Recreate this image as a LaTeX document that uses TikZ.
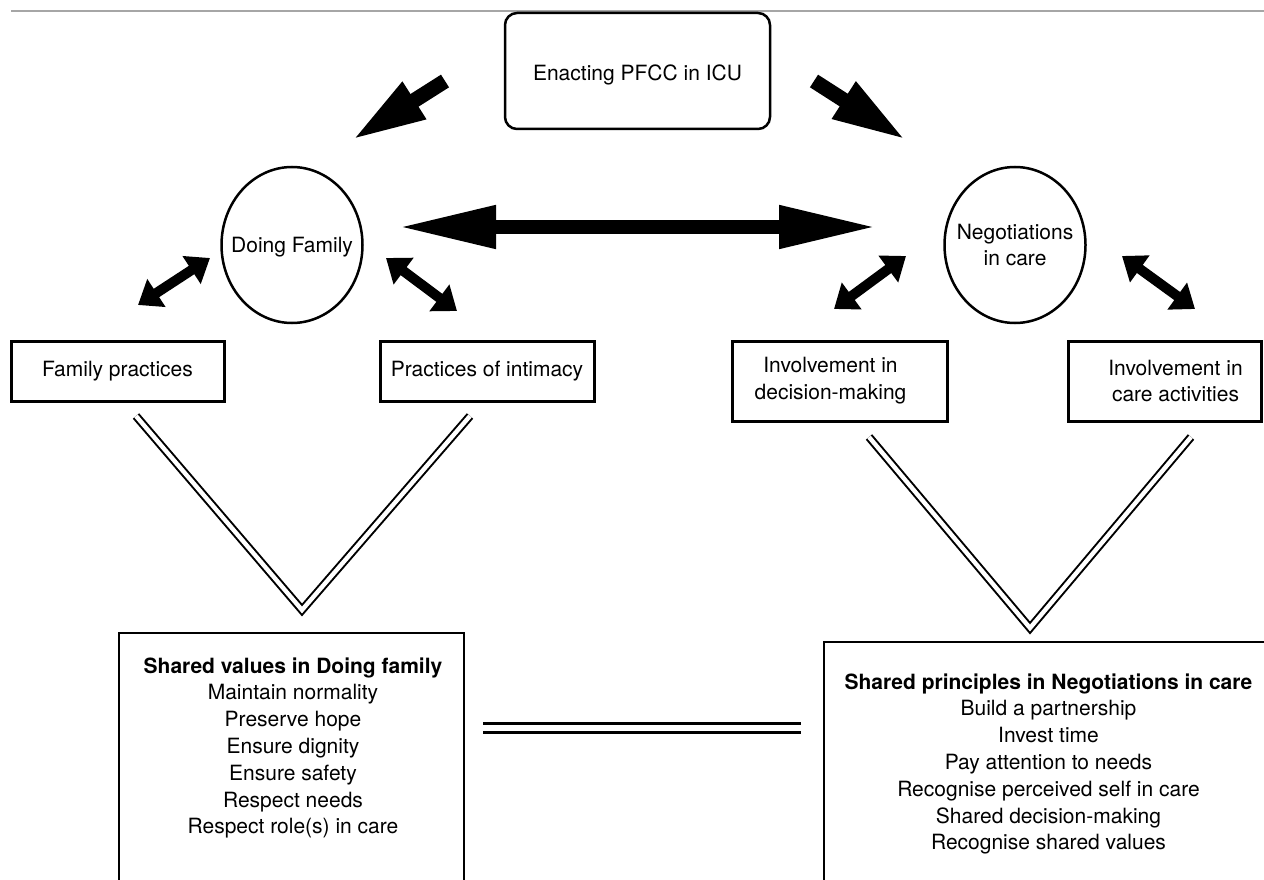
\documentclass[tikz,border=0pt]{standalone}
\usepackage{fontspec}
\setmainfont{TeX Gyre Heros}
\usetikzlibrary{arrows.meta,shapes.geometric}
\begin{document}
\begin{tikzpicture}[x=1pt,y=-1pt,
  every node/.style={font=\fontsize{21}{26.8}\selectfont},
  topbox/.style={draw, line width=2.5pt, rounded corners=12pt, minimum width=265pt, minimum height=116pt, inner sep=0pt},
  ovalnode/.style={draw, ellipse, line width=2.5pt, minimum width=141pt, minimum height=156pt, inner sep=0pt},
  subbox/.style={draw, line width=3pt, inner sep=0pt, align=center},
  valbox/.style={draw, line width=1.8pt, inner sep=0pt, anchor=north west},
  bigarrow/.style={line width=15pt, -{Triangle[length=74pt,width=40pt]}},
  hdarrow/.style={line width=14pt, {Triangle[length=98pt,width=40pt]}-{Triangle[length=98pt,width=40pt]}},
  smallarrow/.style={line width=10pt, {Triangle[length=22pt,width=32pt]}-{Triangle[length=22pt,width=32pt]}},
  vline/.style={double, double distance=4.4pt, line width=2pt, line join=miter},
  eqline/.style={double, double distance=5.5pt, line width=3.5pt},
  topline/.style={draw=gray!70, line width=2pt}
]
\useasboundingbox (0,0) rectangle (1264,880);
\begin{scope}
\clip (0,0) rectangle (1264,880);

% top border line
\coordinate (tl1) at (11,11);
\coordinate (tl2) at (1264,11);
\draw[topline] (tl1) -- (tl2);

% top box
\node[topbox, label={[yshift=-3.5pt]center:Enacting PFCC in ICU}] (top) at (637.5,71) {};

% ovals
\node[ovalnode, label={[yshift=-2pt]center:Doing Family}] (df) at (292,245) {};
\node[ovalnode, label={[align=center]center:{Negotiations\\in care}}] (nc) at (1015,245) {};

% sub boxes
\node[subbox, minimum width=213pt, minimum height=60pt] (fp) at (117.5,371) {Family practices};
\node[subbox, minimum width=214pt, minimum height=60pt] (pi) at (487,371) {Practices of intimacy};
\node[subbox, minimum width=215pt, minimum height=80pt,
      label={[align=center,xshift=-9pt]center:{Involvement in\\decision-making}}] (idm) at (839.5,381) {};
\node[subbox, minimum width=193pt, minimum height=80pt,
      label={[align=center,xshift=11pt]center:{Involvement in\\care activities}}] (ica) at (1164.5,381) {};

% bottom boxes
\node[valbox, minimum width=345pt, minimum height=300pt] (sv) at (118,632) {};
\node[align=center] (svt) at (293,748) {\textbf{Shared values in Doing family}\\Maintain normality\\Preserve hope\\Ensure dignity\\Ensure safety\\Respect needs\\Respect role(s) in care};
\node[valbox, minimum width=480pt, minimum height=300pt] (sp) at (823,641) {};
\node[align=center] (spt) at (1048.5,764) {\textbf{Shared principles in Negotiations in care}\\Build a partnership\\Invest time\\Pay attention to needs\\Recognise perceived self in care\\Shared decision-making\\Recognise shared values};

% big arrows from top box
\coordinate (la0) at (445,81);
\coordinate (la1) at (352,140);
\draw[bigarrow] (la0) -- (la1);
\coordinate (ra0) at (814,81);
\coordinate (ra1) at (906,140);
\draw[bigarrow] (ra0) -- (ra1);

% horizontal double arrow
\coordinate (h0) at (398,227);
\coordinate (h1) at (877,227);
\draw[hdarrow] (h0) -- (h1);

% small double arrows
\coordinate (s1a) at (138,305);
\coordinate (s1b) at (210,258);
\draw[smallarrow] (s1a) -- (s1b);
\coordinate (s2a) at (386,258);
\coordinate (s2b) at (457,311);
\draw[smallarrow] (s2a) -- (s2b);
\coordinate (s3a) at (834,309);
\coordinate (s3b) at (906,256);
\draw[smallarrow] (s3a) -- (s3b);
\coordinate (s4a) at (1122,256);
\coordinate (s4b) at (1195,309);
\draw[smallarrow] (s4a) -- (s4b);

% V lines
\coordinate (v1a) at (136,416);
\coordinate (v1b) at (302,610);
\coordinate (v1c) at (470,416);
\draw[vline] (v1a) -- (v1b) -- (v1c);
\coordinate (v2a) at (869,437);
\coordinate (v2b) at (1030,628);
\coordinate (v2c) at (1191,437);
\draw[vline] (v2a) -- (v2b) -- (v2c);

% equality line
\coordinate (e0) at (483,728);
\coordinate (e1) at (801,728);
\draw[eqline] (e0) -- (e1);
\end{scope}
\end{tikzpicture}
\end{document}
